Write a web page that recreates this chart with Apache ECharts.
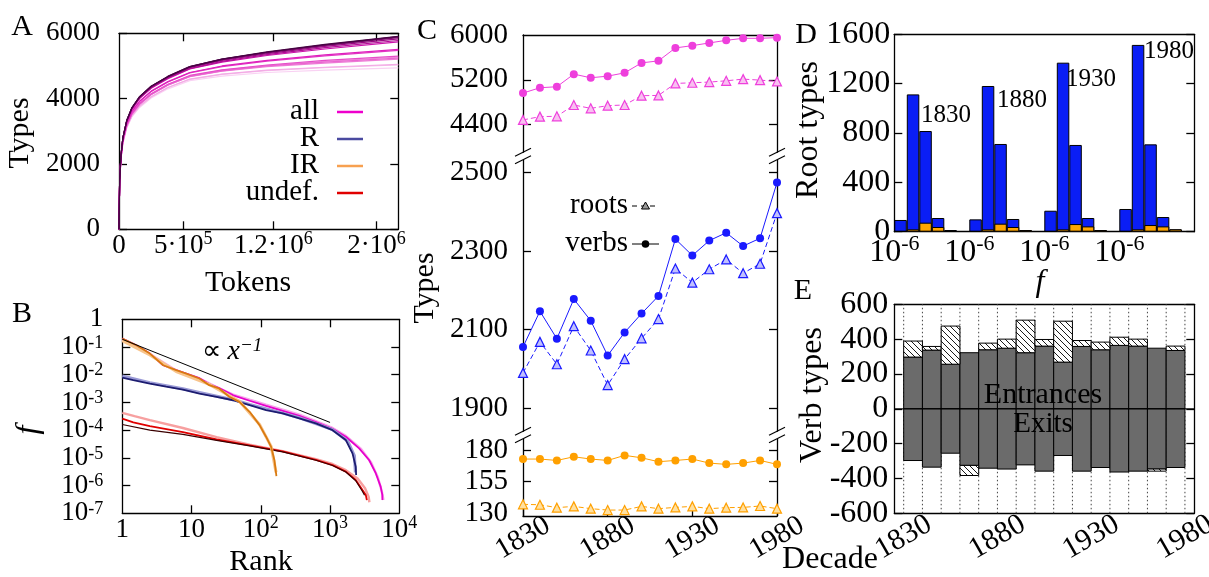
<!DOCTYPE html>
<html><head><meta charset="utf-8">
<script src="https://cdn.jsdelivr.net/npm/echarts@6/dist/echarts.min.js"></script>
<style>html,body{margin:0;padding:0;background:#fff}#c{width:1209px;height:577px}</style>
</head><body><div id="c"></div>
<script>
const FONT = '"Liberation Serif","Times New Roman",serif';

// ---------------- Panel A : types vs tokens (one curve per decade) ----------------
const aTokens = [0, 5e3, 1.5e4, 3e4, 6e4, 1e5, 1.6e5, 2.5e5, 3.8e5, 5.5e5, 8e5, 1.15e6, 1.6e6, 2.17e6];
const aTypes1830 = [0,1420,2120,2620,3100,3440,3730,4020,4300,4550,4690,4800,4875,4940];
const aTypes1840 = [0,1430,2130,2640,3120,3470,3760,4050,4340,4590,4740,4860,4950,5030];
const aTypes1850 = [0,1430,2140,2640,3130,3470,3770,4060,4340,4600,4750,4870,4960,5050];
const aTypes1860 = [0,1450,2160,2680,3180,3540,3840,4140,4430,4700,4870,5010,5140,5270];
const aTypes1870 = [0,1440,2160,2670,3160,3520,3820,4120,4410,4670,4840,4980,5090,5210];
const aTypes1880 = [0,1450,2160,2680,3170,3530,3830,4130,4420,4680,4850,5000,5120,5240];
const aTypes1890 = [0,1450,2170,2690,3190,3540,3850,4150,4440,4710,4880,5030,5170,5300];
const aTypes1900 = [0,1470,2190,2720,3230,3600,3910,4220,4510,4790,4980,5150,5310,5480];
const aTypes1910 = [0,1470,2200,2730,3240,3610,3920,4230,4520,4800,5000,5170,5340,5510];
const aTypes1920 = [0,1490,2230,2770,3290,3670,4000,4320,4610,4910,5120,5320,5520,5740];
const aTypes1930 = [0,1490,2230,2780,3300,3680,4020,4330,4630,4920,5140,5350,5560,5780];
const aTypes1940 = [0,1490,2240,2790,3310,3700,4030,4350,4650,4950,5170,5380,5600,5830];
const aTypes1950 = [0,1500,2250,2790,3320,3710,4050,4370,4660,4960,5190,5400,5630,5870];
const aTypes1960 = [0,1500,2250,2800,3330,3710,4050,4370,4670,4970,5200,5420,5640,5890];
const aTypes1970 = [0,1500,2250,2800,3330,3720,4060,4380,4680,4980,5210,5420,5650,5900];
const aTypes1980 = [0,1500,2250,2800,3330,3720,4060,4380,4680,4980,5210,5430,5660,5910];
const aCurves = [aTypes1830,aTypes1840,aTypes1850,aTypes1860,aTypes1870,aTypes1880,aTypes1890,aTypes1900,
                 aTypes1910,aTypes1920,aTypes1930,aTypes1940,aTypes1950,aTypes1960,aTypes1970,aTypes1980];
const aXTicks = [5e5, 1.2e6, 2e6];
const aLegend = ['all', 'R', 'IR', 'undef.'];

// ---------------- Panel B : rank-frequency ([rank, f]) ----------------
const bRef = [[1, 0.19], [1000, 1.9e-4]];
const bAllLight = [[1,0.19],[2.5,0.056],[6,0.014],[13,0.0072],[25,0.0032],[40,0.0019],[69,0.00125],[119,8.3e-4],[207,5.5e-4],[360,3.6e-4],[625,2.1e-4],[1086,1.2e-4],[1690,6.2e-5],[2800,2.1e-5],[3900,7e-6],[4900,2e-6],[5600,6e-7],[5900,3e-7]];
const bAll = [[1,0.2],[1.6,0.116],[2.5,0.058],[3.9,0.022],[6,0.0146],[8.4,0.011],[13,0.0075],[18,0.0046],[25,0.0033],[40,0.0018],[69,0.00115],[119,7.5e-4],[207,5.0e-4],[360,3.3e-4],[625,1.95e-4],[1086,1.12e-4],[1690,5.8e-5],[2630,2.2e-5],[3660,8.4e-6],[4570,2.8e-6],[5380,9.2e-7],[5690,4.6e-7],[5700,3e-7]];
const bRLight = [[1,9e-3],[2.5,5.2e-3],[7.5,3.1e-3],[13,2.3e-3],[40,1.25e-3],[69,8.5e-4],[207,4.1e-4],[360,2.8e-4],[1086,1.05e-4],[1800,4e-5],[2250,1.2e-5],[2320,3e-6]];
const bR = [[1,7.9e-3],[1.44,6.4e-3],[2.5,4.8e-3],[4.3,3.7e-3],[7.5,2.9e-3],[13,2.1e-3],[23,1.6e-3],[40,1.2e-3],[69,8.0e-4],[119,5.3e-4],[207,4.0e-4],[360,2.65e-4],[625,1.75e-4],[1086,1.0e-4],[1690,4.4e-5],[2110,1.45e-5],[2350,4.8e-6],[2380,2.4e-6]];
const bIRLight = [[1,0.17],[2.5,0.052],[6,0.013],[18,0.0045],[49,0.0011],[96,1.6e-4],[141,2.6e-5],[166,3e-6]];
const bIR = [[1,0.2],[1.6,0.116],[2.5,0.058],[3.9,0.022],[6,0.0146],[8.4,0.011],[13,0.0073],[18,0.0042],[25,0.0032],[35,0.0016],[49,0.00105],[69,4.6e-4],[96,1.52e-4],[119,5.8e-5],[141,2.5e-5],[157,8.4e-6],[166,2.8e-6],[168,2.2e-6]];
const bUndefLight = [[1,4.2e-4],[1.5,3.2e-4],[2.5,2.3e-4],[7.5,1.2e-4],[23,5.6e-5],[69,3e-5],[207,1.75e-5],[625,9e-6],[1086,6e-6],[1690,3.6e-6],[2500,1.8e-6],[3200,8e-7],[3600,4e-7],[3700,2.5e-7]];
const bUndef = [[1,2.6e-4],[1.44,1.9e-4],[2.5,1.4e-4],[7.5,8.5e-5],[23,4.6e-5],[69,2.8e-5],[207,1.7e-5],[360,1.2e-5],[625,8.4e-6],[1086,5.5e-6],[1690,3.2e-6],[2350,1.6e-6],[2940,6.9e-7],[3280,4.6e-7],[3400,3e-7]];
const bUndefDark = [[1,1.6e-4],[2.5,1.0e-4],[7.5,7e-5],[23,4.3e-5],[69,2.7e-5],[207,1.65e-5],[625,8.2e-6],[1086,5.3e-6],[1690,3.1e-6],[2350,1.5e-6],[2900,6.5e-7],[3150,4.5e-7]];

// ---------------- Panel C : types per decade ----------------
const decades = [1830,1840,1850,1860,1870,1880,1890,1900,1910,1920,1930,1940,1950,1960,1970,1980];
const cAllVerbs = [4963,5058,5076,5301,5236,5265,5324,5502,5538,5769,5810,5858,5905,5941,5941,5953];
const cAllRoots = [4483,4542,4548,4750,4690,4738,4750,4916,4921,5135,5147,5159,5182,5212,5194,5170];
const cRVerbs = [2056,2147,2077,2178,2123,2034,2093,2141,2186,2331,2289,2327,2347,2313,2333,2475];
const cRRoots = [1990,2069,2012,2109,2047,1959,2025,2078,2127,2256,2220,2254,2279,2244,2268,2397];
const cIRVerbs = [172.9,172.9,171.8,174.7,172.9,171.8,175.8,173.9,170.8,171.8,172.9,169.7,168.7,169.7,171.8,168.7];
const cIRRoots = [137.1,136.8,134.5,135.5,133.7,132.6,132.6,135.5,133.7,134.7,135.5,133.7,134.5,134.7,135.8,133.7];
const cYearLabels = [1830, 1880, 1930, 1980];

// ---------------- Panel D : root types per frequency bin ----------------
const dYears = ['1830', '1880', '1930', '1980'];
const dBlue1830 = [95,1113,816,111,13];   const dOrange1830 = [3,19,73,38,8];
const dBlue1880 = [100,1181,711,103,13];  const dOrange1880 = [3,19,65,38,13];
const dBlue1930 = [170,1370,703,111,13];  const dOrange1930 = [3,19,62,43,13];
const dBlue1980 = [184,1514,708,119,19];  const dOrange1980 = [3,19,54,43,19];

// ---------------- Panel E : entrances / exits ----------------
const eStart = [1830,1840,1850,1860,1870,1880,1890,1900,1910,1920,1930,1940,1950,1960,1970];
const eEntrGray = [297,337,256,322,339,348,322,360,268,358,339,364,360,348,335];
const eEntrTop  = [389,358,475,322,377,400,509,398,503,392,383,411,400,348,360];
const eExitGray = [-297,-335,-255,-325,-341,-346,-322,-358,-268,-358,-337,-363,-358,-346,-337];
const eExitBot  = [-297,-335,-255,-383,-341,-346,-322,-358,-268,-358,-337,-363,-358,-358,-337];
const eBinYears = 10;

// ---------------- styles ----------------
const aColors = ['#f9d2f3','#f6c0ec','#f3abe5','#f093dd','#ee7ed7','#ea66d0','#e64ec9','#e236c3','#df1fbd',
                 '#cc12ab','#b40d97','#9c0a85','#840873','#6e0662','#5a0552','#470443'];
const MAG = '#ee3fdc', BLUE = '#1a1aff', ORA = '#ffa000';
const AX = {color: '#000', width: 1.3};
const plain = v => String(v);

function rich(size, lh) {
  return {
    b: {fontFamily: FONT, fontSize: size, color: '#000', lineHeight: lh || Math.round(size * 1.2)},
    s: {fontFamily: FONT, fontSize: Math.round(size * 0.68), color: '#000', lineHeight: Math.round(size * 0.68), verticalAlign: 'top'}
  };
}
function pow10(v, isX) {
  const k = Math.round(Math.log10(v));
  if (k === 0) return '{b|1}';
  if (k === 1 && isX) return '{b|10}';
  return '{b|10}{s|' + k + '}';
}
function hatchCanvas() {
  const c = document.createElement('canvas'); c.width = 6; c.height = 6;
  const g = c.getContext('2d');
  g.fillStyle = '#fff'; g.fillRect(0, 0, 6, 6);
  g.strokeStyle = '#000'; g.lineWidth = 0.9;
  g.beginPath();
  g.moveTo(-1, -1); g.lineTo(7, 7);
  g.moveTo(-4, 2); g.lineTo(4, 10);
  g.moveTo(2, -4); g.lineTo(10, 4);
  g.stroke();
  return c;
}
const HATCH = {image: hatchCanvas(), repeat: 'repeat'};
const pairs = (xs, ys) => xs.map((x, i) => [x, ys[i]]);

function yAxis(grid, o) {
  return Object.assign({
    type: 'value', gridIndex: grid, position: 'left',
    axisLine: {show: true, onZero: false, lineStyle: AX},
    axisTick: {show: true, inside: true, length: 8, lineStyle: AX},
    splitLine: {show: false},
    axisLabel: {show: false}
  }, o);
}
function xAxis(grid, o) {
  return Object.assign({
    type: 'value', gridIndex: grid, position: 'bottom',
    axisLine: {show: true, onZero: false, lineStyle: AX},
    axisTick: {show: false},
    splitLine: {show: false},
    axisLabel: {show: false}
  }, o);
}
const numLabel = (size, margin, extra) => Object.assign({show: true, margin, fontFamily: FONT, fontSize: size, color: '#000',
  formatter: plain, showMinLabel: true, showMaxLabel: true}, extra || {});

const chart = echarts.init(document.getElementById('c'));

const grids = [
  {left: 119, top: 33.3, width: 279.3, height: 196},
  {left: 122.3, top: 319.3, width: 277, height: 194},
  {left: 523, top: 35, width: 254, height: 121},
  {left: 523, top: 156, width: 254, height: 279},
  {left: 523, top: 435, width: 254, height: 81},
  {left: 894.3, top: 34.3, width: 300, height: 197.4},
  {left: 894.3, top: 304.3, width: 300, height: 209}
].map(g => Object.assign({outerBoundsMode: 'none', containLabel: false}, g));

const xAxes = [
  // 0,1 : A
  xAxis(0, {min: 0, max: 2.17e6,
    axisTick: {show: true, inside: true, length: 8, lineStyle: AX, customValues: aXTicks},
    axisLabel: {show: true, margin: 1, showMinLabel: true, showMaxLabel: true, customValues: [0].concat(aXTicks), rich: rich(27),
      formatter: v => v === 0 ? '{b|0}' : v === 5e5 ? '{b|5·10}{s|5}' : v === 1.2e6 ? '{b|1.2·10}{s|6}' : '{b|2·10}{s|6}'}}),
  xAxis(0, {min: 0, max: 2.17e6, position: 'top',
    axisTick: {show: true, inside: true, length: 8, lineStyle: AX, customValues: aXTicks}}),
  // 2,3 : B
  xAxis(1, {type: 'log', logBase: 10, min: 1, max: 1e4,
    axisTick: {show: true, inside: true, length: 8, lineStyle: AX, customValues: [10, 100, 1000]},
    axisLabel: {show: true, margin: 1, showMinLabel: true, showMaxLabel: true, customValues: [1, 10, 100, 1000, 10000], rich: rich(27), formatter: v => pow10(v, true)},
    minorTick: {show: false}}),
  xAxis(1, {type: 'log', logBase: 10, min: 1, max: 1e4, position: 'top',
    axisTick: {show: true, inside: true, length: 8, lineStyle: AX, customValues: [10, 100, 1000]}}),
  // 4,5,6 : C
  xAxis(2, {min: 1830, max: 1980, position: 'top'}),
  xAxis(3, {min: 1830, max: 1980, axisLine: {show: false}}),
  xAxis(4, {min: 1830, max: 1980,
    axisTick: {show: true, inside: true, length: 8, lineStyle: AX, customValues: cYearLabels},
    axisLabel: numLabel(29, 22, {customValues: cYearLabels, rotate: 30, align: 'center', verticalAlign: 'middle'})}),
  // 7,8,9 : D
  {type: 'category', gridIndex: 5, data: Array.from({length: 24}, (_, i) => i), boundaryGap: true,
   axisLine: {show: true, lineStyle: AX}, axisTick: {show: false}, axisLabel: {show: false}, splitLine: {show: false}},
  xAxis(5, {min: 0, max: 24, position: 'top'}),
  xAxis(5, {min: 0, max: 24, axisLine: {show: false},
    axisLabel: {show: true, margin: 2, showMinLabel: true, customValues: [0, 6, 12, 18], rich: rich(32), formatter: () => '{b|10}{s|-6}'}}),
  // 10,11 : E
  xAxis(6, {min: 1825, max: 1985,
    axisLabel: numLabel(30, 24, {customValues: cYearLabels, rotate: 30, align: 'center', verticalAlign: 'middle'})}),
  xAxis(6, {min: 1825, max: 1985, position: 'top'})
];

const yAxes = [
  // 0,1 : A
  yAxis(0, {min: 0, max: 6000, interval: 2000, axisLabel: numLabel(27, 19)}),
  yAxis(0, {min: 0, max: 6000, interval: 2000, position: 'right'}),
  // 2,3 : B
  yAxis(1, {type: 'log', logBase: 10, min: 1e-7, max: 1,
    axisTick: {show: true, inside: true, length: 8, lineStyle: AX, customValues: [1e-1,1e-2,1e-3,1e-4,1e-5,1e-6]},
    axisLabel: {show: true, margin: 19, showMinLabel: true, showMaxLabel: true, hideOverlap: false,
      customValues: [1,1e-1,1e-2,1e-3,1e-4,1e-5,1e-6,1e-7], rich: rich(27, 26), formatter: v => pow10(v, false)},
    minorTick: {show: false}}),
  yAxis(1, {type: 'log', logBase: 10, min: 1e-7, max: 1, position: 'right',
    axisTick: {show: true, inside: true, length: 8, lineStyle: AX, customValues: [1e-1,1e-2,1e-3,1e-4,1e-5,1e-6]}}),
  // 4,5 : C top
  yAxis(2, {min: 3839, max: 6000,
    axisTick: {show: true, inside: true, length: 8, lineStyle: AX, customValues: [4400, 5200]},
    axisLabel: numLabel(29, 15, {customValues: [4400, 5200, 6000]})}),
  yAxis(2, {min: 3839, max: 6000, position: 'right',
    axisTick: {show: true, inside: true, length: 8, lineStyle: AX, customValues: [4400, 5200]}}),
  // 6,7 : C mid
  yAxis(3, {min: 1831.7, max: 2542.6,
    axisTick: {show: true, inside: true, length: 8, lineStyle: AX, customValues: [1900, 2100, 2300, 2500]},
    axisLabel: numLabel(29, 15, {customValues: [1900, 2100, 2300, 2500]})}),
  yAxis(3, {min: 1831.7, max: 2542.6, position: 'right',
    axisTick: {show: true, inside: true, length: 8, lineStyle: AX, customValues: [1900, 2100, 2300, 2500]}}),
  // 8,9 : C bottom
  yAxis(4, {min: 127.9, max: 191.9,
    axisTick: {show: true, inside: true, length: 8, lineStyle: AX, customValues: [155, 180]},
    axisLabel: numLabel(29, 15, {customValues: [130, 155, 180]})}),
  yAxis(4, {min: 127.9, max: 191.9, position: 'right',
    axisTick: {show: true, inside: true, length: 8, lineStyle: AX, customValues: [155, 180]}}),
  // 10,11 : D
  yAxis(5, {min: 0, max: 1600, interval: 400, axisLabel: numLabel(32, 4)}),
  yAxis(5, {min: 0, max: 1600, interval: 400, position: 'right'}),
  // 12,13 : E
  yAxis(6, {min: -600, max: 600, interval: 200, axisLabel: numLabel(32, 6)}),
  yAxis(6, {min: -600, max: 600, interval: 200, position: 'right'})
];

const series = [];
// A curves
aCurves.forEach((ys, i) => series.push({
  type: 'line', xAxisIndex: 0, yAxisIndex: 0, data: pairs(aTokens, ys), showSymbol: false,
  smooth: false, lineStyle: {color: aColors[i], width: 1.2, join: 'round'}, silent: true, z: 2
}));
// B curves
const bLine = (data, color, w, z) => ({type: 'line', xAxisIndex: 2, yAxisIndex: 2, data, showSymbol: false,
  lineStyle: {color, width: w}, silent: true, z: z || 2});
series.push(
  bLine(bAllLight, '#f7a6ea', 2.5), bLine(bAll, '#e600cc', 1.8),
  bLine(bRLight, '#9a9ad6', 3), bLine(bR, '#1c1c70', 1.8),
  bLine(bUndefLight, '#f7a0a0', 2.5), bLine(bUndef, '#e00000', 1.8), bLine(bUndefDark, '#3a0000', 1.2),
  bLine(bIRLight, '#f8c48c', 3), bLine(bIR, '#d97a10', 1.8),
  bLine(bRef, '#000', 1, 3)
);
// C
const cLine = (xi, yi, ys, color, fill, roots) => ({
  type: 'line', xAxisIndex: xi, yAxisIndex: yi, data: pairs(decades, ys), clip: false,
  symbol: roots ? 'triangle' : 'circle', symbolSize: roots ? 9 : 8,
  lineStyle: {color, width: 1, type: roots ? [5, 3] : 'solid'},
  itemStyle: roots ? {color: fill, borderColor: color, borderWidth: 1.2} : {color},
  silent: true, z: 3
});
series.push(
  cLine(4, 4, cAllVerbs, MAG, MAG, false), cLine(4, 4, cAllRoots, MAG, '#f8c0f0', true),
  cLine(5, 6, cRVerbs, BLUE, BLUE, false), cLine(5, 6, cRRoots, BLUE, '#c0c0ff', true),
  cLine(6, 8, cIRVerbs, ORA, ORA, false), cLine(6, 8, cIRRoots, ORA, '#ffe0a0', true)
);
// D
const dBlue = [].concat(dBlue1830, [null], dBlue1880, [null], dBlue1930, [null], dBlue1980, [null]);
const dOrange = [].concat(dOrange1830, [null], dOrange1880, [null], dOrange1930, [null], dOrange1980, [null]);
series.push(
  {type: 'bar', xAxisIndex: 7, yAxisIndex: 10, data: dBlue, barCategoryGap: '0%', barGap: '-100%',
   itemStyle: {color: '#0a1ef5', borderColor: '#000', borderWidth: 1}, silent: true},
  {type: 'bar', xAxisIndex: 7, yAxisIndex: 10, data: dOrange, barCategoryGap: '0%', barGap: '-100%',
   itemStyle: {color: '#ffa500', borderColor: '#000', borderWidth: 1}, silent: true}
);
// E
const eRect = (fill) => function (params, api) {
  const x0 = api.value(0), y0 = api.value(1), y1 = api.value(2);
  const a = api.coord([x0, y0]), b = api.coord([x0 + eBinYears, y1]);
  return {type: 'rect', shape: {x: a[0], y: Math.min(a[1], b[1]), width: b[0] - a[0], height: Math.abs(b[1] - a[1])},
          style: {fill, stroke: '#000', lineWidth: 1}};
};
series.push(
  {type: 'custom', xAxisIndex: 10, yAxisIndex: 12, silent: true, z: 1,
   data: decades.map(d => [d]),
   renderItem: (params, api) => {
     const a = api.coord([api.value(0), -600]), b = api.coord([api.value(0), 600]);
     return {type: 'line', shape: {x1: a[0], y1: a[1], x2: b[0], y2: b[1]}, style: {stroke: '#444', lineWidth: 1, lineDash: [1.5, 2.5]}};
   }},
  {type: 'custom', xAxisIndex: 10, yAxisIndex: 12, silent: true, z: 2, encode: {x: 0, y: [1, 2]},
   data: eStart.map((s, i) => [s, 0, eEntrGray[i]]).concat(eStart.map((s, i) => [s, 0, eExitGray[i]])),
   renderItem: eRect('#6b6b6b')},
  {type: 'custom', xAxisIndex: 10, yAxisIndex: 12, silent: true, z: 2, encode: {x: 0, y: [1, 2]},
   data: eStart.map((s, i) => [s, eEntrGray[i], eEntrTop[i]]).concat(eStart.map((s, i) => [s, eExitGray[i], eExitBot[i]]))
     .filter(r => r[1] !== r[2]),
   renderItem: eRect(HATCH)},
  {type: 'custom', xAxisIndex: 10, yAxisIndex: 12, silent: true, z: 3, data: [[1825, 0, 1985]],
   renderItem: (params, api) => {
     const a = api.coord([api.value(0), api.value(1)]), b = api.coord([api.value(2), api.value(1)]);
     return {type: 'line', shape: {x1: a[0], y1: a[1], x2: b[0], y2: b[1]}, style: {stroke: '#000', lineWidth: 1}};
   }}
);

// ---------------- graphic annotations ----------------
const txt = (text, x, y, size, o) => ({
  type: 'text', x, y, z: 50, silent: true, rotation: (o && o.rotation) || 0,
  style: {text, font: ((o && o.italic) ? 'italic ' : '') + size + 'px ' + FONT, fill: '#000',
          align: (o && o.align) || 'center', verticalAlign: 'middle'}
});
const legendColors = ['#ee00cc', '#4a4aa0', '#f7a050', '#e00000'];
const legendY = [111, 138, 165, 192];
const graphics = [
  txt('A', 22, 27, 30), txt('B', 22, 314, 30), txt('C', 427, 31, 30), txt('D', 806, 35, 30), txt('E', 803, 291, 30),
  txt('Types', 20, 133, 30, {rotation: Math.PI / 2}),
  txt('Tokens', 248, 283, 30),
  txt('f', 29, 430, 32, {rotation: Math.PI / 2, italic: true}),
  txt('Rank', 261, 562, 30),
  {type: 'text', x: 232, y: 352, z: 50, silent: true, style: {
    text: '{n|∝ }{i|x}{s|−1}', align: 'center', verticalAlign: 'middle',
    rich: {n: {fontFamily: FONT, fontSize: 27, lineHeight: 32}, i: {fontFamily: FONT, fontSize: 28, fontStyle: 'italic', lineHeight: 32},
           s: {fontFamily: FONT, fontSize: 19, fontStyle: 'italic', lineHeight: 19, verticalAlign: 'top'}}}},
  txt('Types', 425, 288, 30, {rotation: Math.PI / 2}),
  txt('Decade', 830, 560, 32),
  txt('Root types', 809, 130, 32, {rotation: Math.PI / 2}),
  txt('f', 1040, 283, 32, {italic: true}),
  txt('Verb types', 813, 395, 32, {rotation: Math.PI / 2}),
  txt('Entrances', 1043, 395, 30), txt('Exits', 1043, 424, 29),
  txt('1830', 946, 115, 25), txt('1880', 1022, 100, 25), txt('1930', 1091, 79, 25), txt('1980', 1169, 51, 25),
  // C legend
  txt('roots', 628, 205, 29, {align: 'right'}),
  txt('verbs', 628, 243, 29, {align: 'right'}),
  {type: 'line', z: 50, shape: {x1: 632, y1: 206, x2: 659, y2: 206}, style: {stroke: '#000', lineWidth: 1, lineDash: [5, 4]}},
  {type: 'polygon', z: 51, shape: {points: [[645.5, 202], [641.5, 209], [649.5, 209]]}, style: {fill: '#999', stroke: '#000', lineWidth: 1}},
  {type: 'line', z: 50, shape: {x1: 632, y1: 244, x2: 659, y2: 244}, style: {stroke: '#000', lineWidth: 1}},
  {type: 'circle', z: 51, shape: {cx: 645.5, cy: 244, r: 3.8}, style: {fill: '#000'}}
];
aLegend.forEach((name, i) => {
  graphics.push(txt(name, 319, legendY[i], 29, {align: 'right'}));
  graphics.push({type: 'line', z: 50, shape: {x1: 337, y1: legendY[i] + 1, x2: 363, y2: legendY[i] + 1}, style: {stroke: legendColors[i], lineWidth: 2.5}});
});
// break marks on panel C
[[523, 156], [777, 156], [523, 435], [777, 435]].forEach(([cx, cy]) => {
  graphics.push({type: 'polygon', z: 60, shape: {points: [[cx - 8, cy + 1], [cx + 8, cy - 7], [cx + 8, cy + 0], [cx - 8, cy + 8]]}, style: {fill: '#fff'}});
  graphics.push({type: 'line', z: 61, shape: {x1: cx - 8, y1: cy + 0.3, x2: cx + 8, y2: cy - 7.7}, style: {stroke: '#000', lineWidth: 1.2}});
  graphics.push({type: 'line', z: 61, shape: {x1: cx - 8, y1: cy + 7.7, x2: cx + 8, y2: cy - 0.3}, style: {stroke: '#000', lineWidth: 1.2}});
});

chart.setOption({
  animation: false,
  backgroundColor: '#fff',
  textStyle: {fontFamily: FONT},
  grid: grids, xAxis: xAxes, yAxis: yAxes, series, graphic: graphics
});
</script></body></html>
